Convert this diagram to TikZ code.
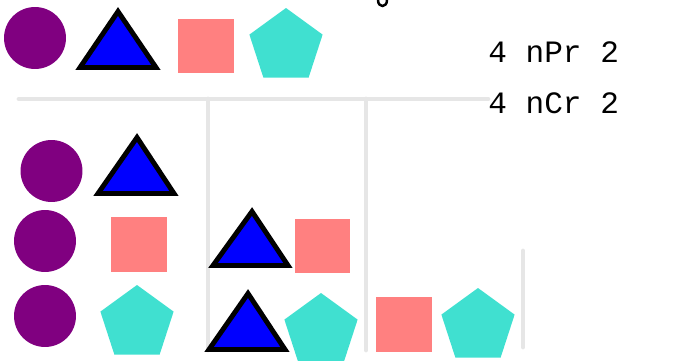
\documentclass[tikz,border=0pt]{standalone}
\usepackage{fontspec}
\newfontfamily\combfont{Liberation Mono}
\usetikzlibrary{shapes.geometric}
\definecolor{dotpurple}{RGB}{128,0,128}
\definecolor{triblue}{RGB}{0,0,255}
\definecolor{sqsalmon}{RGB}{255,128,128}
\definecolor{pentturq}{RGB}{64,224,208}
\definecolor{railgray}{RGB}{230,230,230}

\begin{document}
\begin{tikzpicture}[x=0.02cm,y=-0.02cm,
    dot/.style={circle,fill=dotpurple,minimum size=1.24cm,inner sep=0pt},
    sq/.style={rectangle,fill=sqsalmon,minimum width=1.12cm,minimum height=1.09cm,inner sep=0pt},
    pent/.style={regular polygon,regular polygon sides=5,fill=pentturq,minimum size=1.54cm,inner sep=0pt},
    tri/.style={fill=triblue,draw=black,line width=2.8pt,line join=miter},
    rail/.style={draw=railgray,line width=2.8pt,line cap=round},
    lbl/.style={anchor=west,inner sep=0pt,font=\combfont\fontsize{17.7pt}{20pt}\selectfont}]
  \useasboundingbox (0,0) rectangle (687,361);
  % clipped title glyph
  \draw[line width=1.4pt] (378,0) .. controls (378,8) and (387,8) .. (387,0);
  % labels
  \node[lbl] (npr) at (488,52) {4 nPr 2};
  \node[lbl] (ncr) at (488,103) {4 nCr 2};
  % rails
  \coordinate (hstart) at (19,99);
  \draw[rail] (hstart) -- (hstart -| ncr.west);
  \draw[rail] (208,99) -- (208,350);
  \draw[rail] (366,99) -- (366,350);
  \draw[rail] (523,251) -- (523,347);
  % the four items
  \node[dot] (c0) at (35,38) {};
  \draw[tri] (118,11.5) -- (80,67.5) -- (156,67.5) -- cycle;
  \node[sq] (s0) at (206,46) {};
  \node[pent] (p0) at (286,46.5) {};
  % pairs with the circle
  \node[dot] (c1) at (51.5,171) {};
  \draw[tri] (137,137.5) -- (98,193.5) -- (174,193.5) -- cycle;
  \node[dot] (c2) at (45,241) {};
  \node[sq] (s1) at (139,244.5) {};
  \node[dot] (c3) at (45,316) {};
  \node[pent] (p1) at (137,323.5) {};
  % pairs with the triangle
  \draw[tri] (252,211.5) -- (213,265.5) -- (288,265.5) -- cycle;
  \node[sq] (s2) at (322.5,246) {};
  \draw[tri] (248,293.5) -- (209,349.5) -- (285,349.5) -- cycle;
  \node[pent] (p2) at (321,331.5) {};
  % square with pentagon
  \node[sq] (s3) at (404,324.5) {};
  \node[pent] (p3) at (478,326.5) {};
\end{tikzpicture}
\end{document}
